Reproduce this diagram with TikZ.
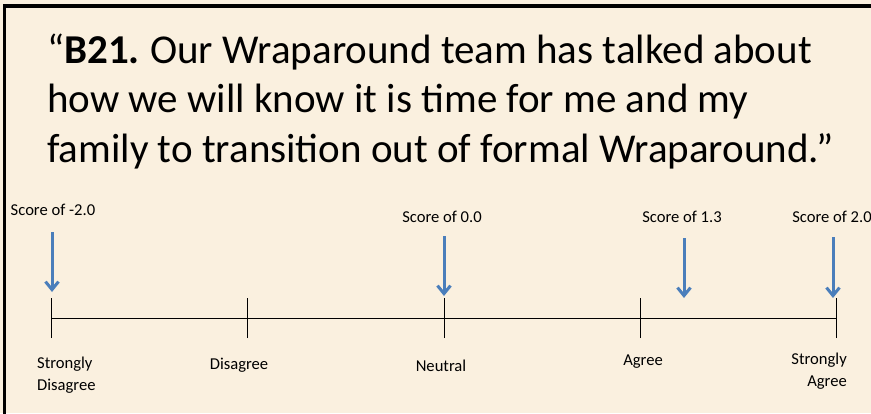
\documentclass[tikz,border=0pt]{standalone}
\usepackage{fontspec}
\setmainfont{Carlito}
\usetikzlibrary{arrows.meta}
\definecolor{bgcream}{HTML}{FAF0DF}
\definecolor{arrowblue}{HTML}{4A7EBB}
\begin{document}
\begin{tikzpicture}[x=1pt,y=-1pt,
  title/.style={anchor=base west,inner sep=0pt,font=\fontsize{41}{48}\selectfont},
  small/.style={inner sep=0pt,font=\fontsize{16.6}{21.5}\selectfont},
  tick/.style={draw=black,line width=1pt},
  scorearrow/.style={draw=arrowblue,line width=3pt,-{Straight Barb[length=8pt,width=13pt,line width=3pt]}}]
\fill[bgcream] (0,0) rectangle (871,413);
\useasboundingbox (0,0) rectangle (871,413);
\draw[line width=3.5pt,line cap=rect] (4.5,413) -- (4.5,6) -- (871,6);
% title
\node[title] (t1) at (47,63) {“\textbf{B21.}\kern-2pt{} Our Wraparound team has talked about};
\node[title] (t2) at (47,112) {how we will know it is time for me and my};
\node[title] (t3) at (47,162) {family to transition out of formal Wraparound.”};
% axis
\coordinate (k1) at (51,318);
\coordinate (k2) at (247,318);
\coordinate (k3) at (444,318);
\coordinate (k4) at (640,318);
\coordinate (k5) at (836,318);
\draw[tick] (k1) -- (k5);
\foreach \k in {k1,k2,k3,k4,k5}{\draw[tick] ([yshift=-20pt]\k) -- ([yshift=20pt]\k);}
% scores
\node[small] (s1) at (53,210) {Score of -2.0};
\node[small] (s2) at (442,217) {Score of 0.0};
\node[small] (s3) at (682,217) {Score of 1.3};
\node[small] (s4) at (832,217) {Score of 2.0};
\coordinate (a1s) at (52,232); \coordinate (a1e) at (52,292);
\coordinate (a2s) at (444,236); \coordinate (a2e) at (444,296);
\coordinate (a3s) at (684,238); \coordinate (a3e) at (684,298);
\coordinate (a4s) at (833,237); \coordinate (a4e) at (833,298);
\draw[scorearrow] (a1s) -- (a1e);
\draw[scorearrow] (a2s) -- (a2e);
\draw[scorearrow] (a3s) -- (a3e);
\draw[scorearrow] (a4s) -- (a4e);
% bottom labels
\node[small,anchor=north west,align=left] (l1) at (37,357) {Strongly\\Disagree};
\node[small] (l2) at (239,365) {Disagree};
\node[small] (l3) at (441,366) {Neutral};
\node[small] (l4) at (643,362) {Agree};
\node[small,anchor=north east,align=right] (l5) at (847,353) {Strongly\\Agree};
\end{tikzpicture}
\end{document}
